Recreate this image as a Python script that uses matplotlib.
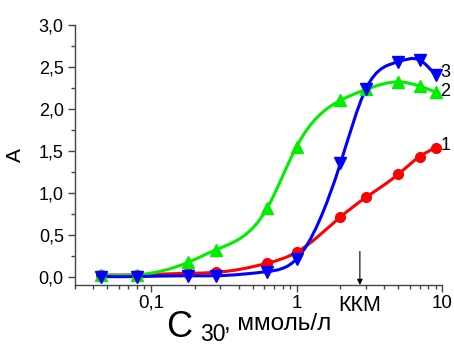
import numpy as np
import matplotlib.pyplot as plt
from matplotlib.path import Path
from matplotlib.patches import PathPatch
from matplotlib.ticker import FixedLocator, NullFormatter

plt.rcParams['font.family'] = ['Liberation Sans', 'DejaVu Sans']

# Data
conc = [0.045, 0.08, 0.18, 0.28, 0.63, 1.0, 2.0, 3.0, 5.0, 7.0, 9.0]
a1 = [0.02, 0.02, 0.04, 0.05, 0.16, 0.29, 0.71, 0.945, 1.22, 1.43, 1.535]
a2 = [0.02, 0.02, 0.17, 0.32, 0.82, 1.55, 2.10, 2.23, 2.32, 2.27, 2.20]
a3 = [0.0, 0.0, 0.01, 0.01, 0.06, 0.21, 1.35, 2.24, 2.56, 2.58, 2.40]
kkm = 2.72

y_ticks = [0.0, 0.5, 1.0, 1.5, 2.0, 2.5, 3.0]
y_labels = ['0,0', '0,5', '1,0', '1,5', '2,0', '2,5', '3,0']
x_ticks = [0.1, 1, kkm, 10]
x_labels = ['0,1', '1', 'ККМ', '10']


def smooth_path(xs, ys):
    # natural cubic spline through the points in (log x, y), drawn by matplotlib as Bezier segments
    lx = np.log10(xs)
    y = np.asarray(ys, float)
    n = len(lx)
    h = np.diff(lx)
    A = np.zeros((n, n))
    r = np.zeros(n)
    A[0, 0] = A[-1, -1] = 1
    for i in range(1, n - 1):
        A[i, i - 1] = h[i - 1]
        A[i, i] = 2 * (h[i - 1] + h[i])
        A[i, i + 1] = h[i]
        r[i] = 6 * ((y[i + 1] - y[i]) / h[i] - (y[i] - y[i - 1]) / h[i - 1])
    M = np.linalg.solve(A, r)
    verts = [(xs[0], y[0])]
    codes = [Path.MOVETO]
    for i in range(n - 1):
        s = (y[i + 1] - y[i]) / h[i]
        d0 = s - h[i] * (2 * M[i] + M[i + 1]) / 6
        d1 = s + h[i] * (M[i] + 2 * M[i + 1]) / 6
        c1 = (10 ** (lx[i] + h[i] / 3), y[i] + d0 * h[i] / 3)
        c2 = (10 ** (lx[i + 1] - h[i] / 3), y[i + 1] - d1 * h[i] / 3)
        verts += [c1, c2, (xs[i + 1], y[i + 1])]
        codes += [Path.CURVE4] * 3
    return Path(verts, codes)


fig = plt.figure(figsize=(4.54, 3.45), dpi=100)
ax = fig.add_axes([0.165, 0.174, 0.809, 0.754])

series = [(a1, '#ff0000', 'o', 7), (a2, '#00ee00', '^', 8), (a3, '#0000ff', 'v', 8)]
for vals, col, mk, ms in series:
    ax.add_patch(PathPatch(smooth_path(conc, vals), fill=False, edgecolor=col, lw=2.2, zorder=2))
    ax.plot(conc, vals, ls='none', marker=mk, color=col, ms=ms, zorder=3)

ax.set_xscale('log')
ax.set_xlim(0.03, 10)
ax.set_ylim(-0.1, 3.0)

ax.set_yticks(y_ticks)
ax.set_yticklabels(y_labels)
ax.yaxis.set_minor_locator(FixedLocator(np.arange(0.25, 3.0, 0.5)))
ax.set_xticks(x_ticks)
ax.set_xticklabels(x_labels)
ax.xaxis.set_minor_formatter(NullFormatter())

for s in ['top', 'right']:
    ax.spines[s].set_visible(False)
for s in ['left', 'bottom']:
    ax.spines[s].set_color('#444444')
    ax.spines[s].set_linewidth(1.0)

ax.tick_params(axis='both', which='major', direction='out', length=5, width=1, color='#444444', labelsize=13, pad=3)
ax.tick_params(axis='both', which='minor', direction='out', length=3, width=1, color='#444444')
ax.tick_params(axis='x', which='major', labelsize=13.5, pad=2)
# tick at ККМ is only the arrow
ax.xaxis.get_major_ticks()[2].tick1line.set_visible(False)
ax.get_xticklabels()[2].set_fontsize(15.5)

ax.annotate('', xy=(kkm, -0.1), xytext=(kkm, 0.3),
            arrowprops=dict(arrowstyle='-|>', color='black', lw=0.8, mutation_scale=8, shrinkA=0, shrinkB=0),
            annotation_clip=False)

# curve numbers
ax.text(9.7, 2.43, '3', fontsize=13, va='center', ha='left')
ax.text(9.7, 2.21, '2', fontsize=13, va='center', ha='left')
ax.text(9.7, 1.56, '1', fontsize=13, va='center', ha='left')

ax.set_ylabel('A', fontsize=15, labelpad=10)

# x label built from pieces: big C, subscript 30, units
fig.text(166 / 454, 1 - 337 / 345, 'C', fontsize=26, va='baseline', ha='left')
fig.text(200 / 454, 1 - 341 / 345, '30', fontsize=16.5, va='baseline', ha='left')
fig.text(224 / 454, 1 - 330 / 345, ', ммоль/л', fontsize=17.5, va='baseline', ha='left')

fig.savefig('out.png', dpi=100)
